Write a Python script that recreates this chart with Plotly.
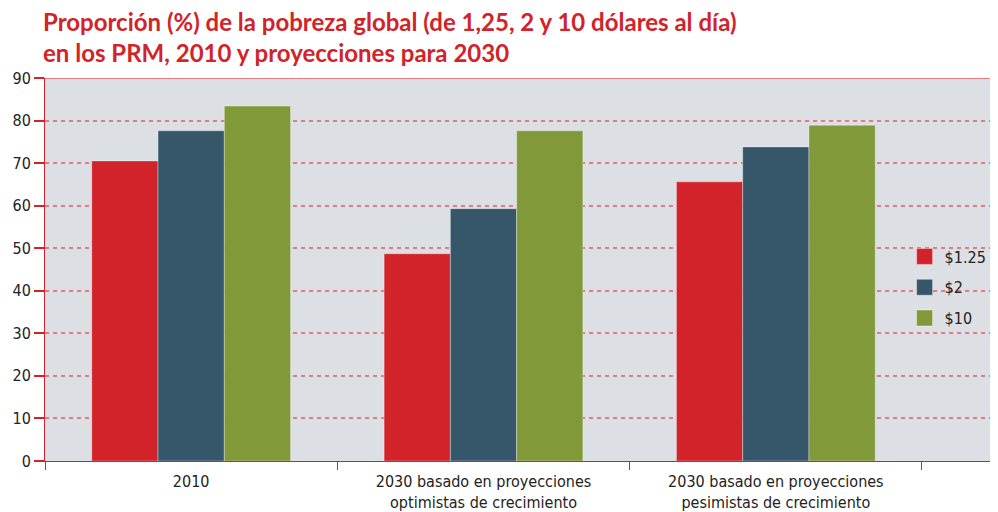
import plotly.graph_objects as go

categories = ["2010",
              "2030 basado en proyecciones<br>optimistas de crecimiento",
              "2030 basado en proyecciones<br>pesimistas de crecimiento"]
series_names = ["$1.25", "$2", "$10"]
val_125 = [70.5, 48.7, 65.6]
val_2 = [77.6, 59.3, 73.8]
val_10 = [83.4, 77.6, 78.9]
y_ticks = [0, 10, 20, 30, 40, 50, 60, 70, 80, 90]

RED = "#d2232a"
GRID = "#e37b80"
colors = ["#d2232a", "#36566a", "#82993a"]

fig = go.Figure()
for name, vals, col in zip(series_names, [val_125, val_2, val_10], colors):
    fig.add_trace(go.Bar(
        x=categories, y=vals, name=name, showlegend=False,
        marker=dict(color=col, line=dict(color="rgba(255,255,255,0.35)", width=1)),
    ))

# legend entries with bigger square swatches
for name, col in zip(series_names, colors):
    fig.add_trace(go.Scatter(
        x=[None], y=[None], mode="markers", name=name, legendgroup=name,
        marker=dict(symbol="square", size=22, color=col,
                    line=dict(color="rgba(255,255,255,0.4)", width=1)),
    ))

# page body adds an 8px offset, so the figure is drawn 8px smaller
fig.update_layout(
    width=990, height=504,
    margin=dict(l=37, r=0, t=70, b=42),
    paper_bgcolor="white",
    plot_bgcolor="#dcdfe4",
    barmode="group",
    bargap=0.32,
    bargroupgap=0,
    font=dict(family="Liberation Sans Narrow, DejaVu Sans Condensed", size=16, color="#222222"),
    legend=dict(x=0.902, y=0.453, xanchor="left", yanchor="middle",
                bgcolor="rgba(0,0,0,0)", font=dict(size=16, color="#222222"),
                itemwidth=30, tracegroupgap=7, itemsizing="trace"),
    xaxis=dict(
        range=[-0.5, 2.76],
        showline=True, linecolor=RED, linewidth=1,
        ticks="outside", tickson="boundaries", tickcolor=RED, ticklen=8,
        ticklabelstandoff=6,
        showgrid=False,
    ),
    yaxis=dict(
        range=[0, 90], tickvals=y_ticks,
        showline=True, linecolor=RED, linewidth=1,
        ticks="outside", tickcolor=RED, ticklen=10, tickwidth=2,
        showgrid=True, gridcolor=GRID, gridwidth=2, griddash="4px,4px",
        zeroline=False,
    ),
    shapes=[dict(type="line", xref="paper", yref="y", x0=0, x1=1, y0=90, y1=90,
                 line=dict(color=GRID, width=2))],
    annotations=[dict(
        text="Proporción (%) de la pobreza global (de 1,25, 2 y 10 dólares al día)<br>en los PRM, 2010 y proyecciones para 2030",
        xref="paper", yref="paper", x=0, y=1, xanchor="left", yanchor="bottom",
        xshift=-4, yshift=9, align="left", showarrow=False,
        font=dict(family="Lato", size=24, color=RED, weight="bold"),
    )],
)

fig.write_html("out.html")
